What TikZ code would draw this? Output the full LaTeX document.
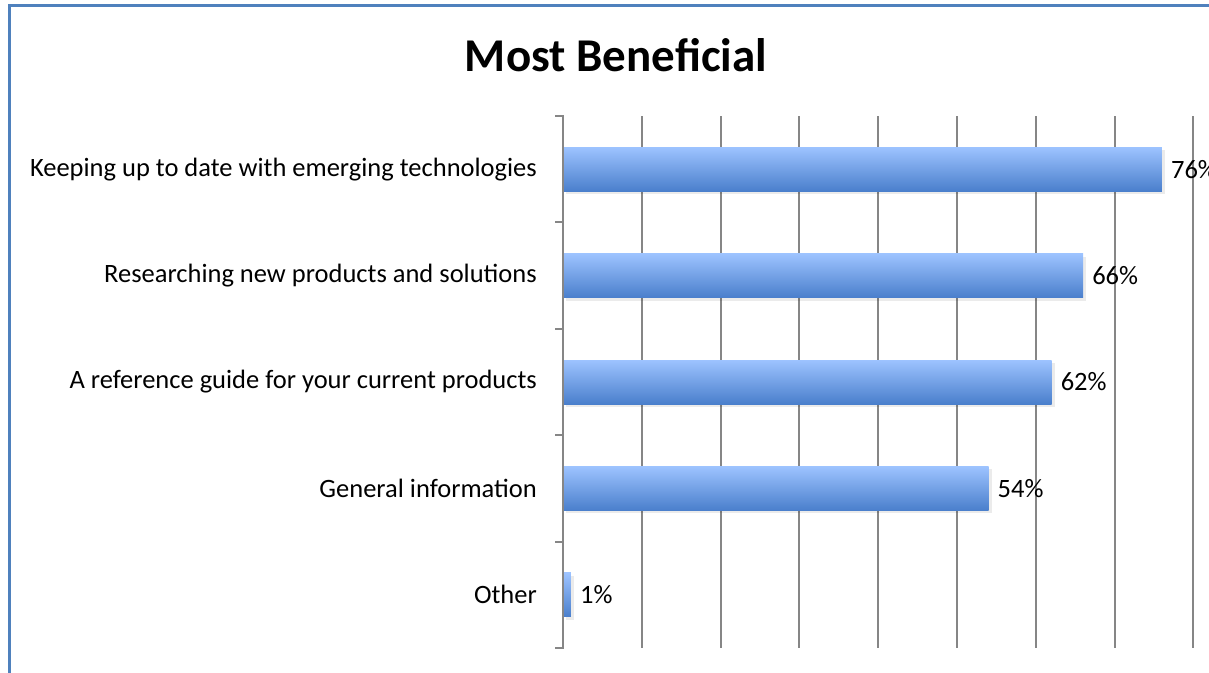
\documentclass[tikz,border=0pt]{standalone}
\usepackage{fontspec}
\setmainfont{Carlito}
\definecolor{framebl}{HTML}{4F81BD}
\definecolor{gridgr}{HTML}{868686}
\definecolor{bartop}{HTML}{9DC3FF}
\definecolor{barbot}{HTML}{4A7FCC}
\tikzset{lbl/.style={font=\fontsize{26.5}{31}\selectfont, inner sep=0pt}}
\begin{document}
\begin{tikzpicture}[x=1pt,y=-1pt]
\useasboundingbox (0,0) rectangle (1209,672);
% Frame
\draw[framebl, line width=3pt] (9,680) -- (9,5) -- (1220,5);

% Title
\node[font=\bfseries\fontsize{47}{56}\selectfont] (title) at (616,55) {Most Beneficial};

% Grid
\foreach \k in {1,...,8} {
  \draw[gridgr, line width=2pt] ({563+78.8*\k},116) -- ({563+78.8*\k},648);
}

% Axis and ticks
\draw[gridgr, line width=2pt] (555,116) -- (563,116) -- (563,648) -- (555,648);
\foreach \k in {1,...,4} {
  \draw[gridgr, line width=2pt] (555,{116+106.4*\k}) -- (563,{116+106.4*\k});
}

% Bars
\foreach \v/\txt [count=\i from 0] in {76/Keeping up to date with emerging technologies,
    66/Researching new products and solutions,
    62/A reference guide for your current products,
    54/General information,
    1/Other} {
  \pgfmathsetmacro\yc{116+106.4*(\i+0.5)}
  \pgfmathsetmacro\xe{563+7.88*\v}
  \fill[black, opacity=0.08] (566,\yc-19) rectangle (\xe+3,\yc+25);
  \shade[top color=bartop, bottom color=barbot] (564,\yc-22) rectangle (\xe,\yc+22);
  \node[lbl, anchor=east] (cat\i) at (537,\yc) {\txt};
  \node[lbl, anchor=west] (val\i) at (\xe+9,\yc) {\v\%};
}
\end{tikzpicture}
\end{document}
